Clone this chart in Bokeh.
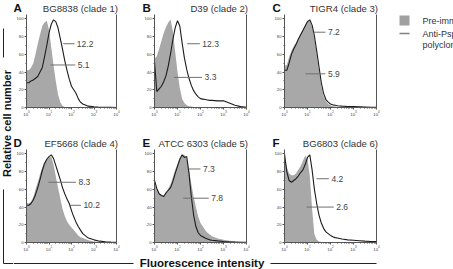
import math
from bokeh.plotting import figure
from bokeh.layouts import row, column
from bokeh.models import Range1d, LinearAxis, FixedTicker, Spacer
from bokeh.core.properties import value
from bokeh.embed import file_html
from bokeh.resources import INLINE

FONT = "Liberation Sans"
GRAY_FILL = "#a8a8a8"
LINE_BLACK = "#1c1c1c"
AXIS_COLOR = "#555555"
LEADER = "#707070"
TEXT_DARK = "#333333"

# Fluorescence bins (log10 of intensity) shared by every histogram
LOG_BINS = [0.0, 0.1, 0.2, 0.3, 0.4, 0.5, 0.6, 0.7, 0.8, 0.9,
            1.0, 1.1, 1.2, 1.3, 1.4, 1.5, 1.6, 1.7, 1.8, 1.9,
            2.0, 2.1, 2.2, 2.3, 2.4, 2.5, 2.75, 3.0, 3.25, 3.5, 3.75, 4.0]

STRAINS = ["BG8838 (clade 1)", "D39 (clade 2)", "TIGR4 (clade 3)",
           "EF5668 (clade 4)", "ATCC 6303 (clade 5)", "BG6803 (clade 6)"]
LETTERS = ["A", "B", "C", "D", "E", "F"]

# Relative cell number, pre-immune serum
PRE_A = [42, 42, 45, 50, 60, 72, 82, 92, 96, 98, 88, 68, 48, 30, 15, 6, 2, 0.5,
         0, 0, 0, 0, 0, 0, 0, 0, 0, 0, 0, 0, 0, 0]
PRE_B = [55, 58, 66, 75, 84, 91, 96, 99, 86, 63, 40, 22, 10, 5, 2.5, 1.5, 1, 0.5, 0.3, 0.2,
         0, 0, 0, 0, 0, 0, 0, 0, 0, 0, 0, 0]
PRE_C = [47, 48, 57, 64, 69, 73, 78, 83, 88, 93, 98, 98, 91, 78, 60, 42, 24, 13, 7, 4,
         2.5, 1.5, 1, 0.6, 0.4, 0.3, 0, 0, 0, 0, 0, 0]
PRE_D = [45, 44, 46, 51, 60, 68, 77, 85, 91, 94, 96, 97, 88, 75, 62, 50, 38, 30, 24, 20,
         17, 14, 11, 8, 6, 5, 2.5, 1.2, 0.6, 0.3, 0.1, 0]
PRE_E = [66, 61, 56, 54, 53, 56, 61, 66, 74, 82, 89, 95, 99, 99, 94, 82, 66, 52, 40, 29,
         22, 18, 14, 11, 9, 7, 4.5, 3, 2, 1.3, 0.8, 0.4]
PRE_F = [95, 85, 78, 76, 76, 78, 82, 86, 92, 98, 94, 75, 38, 9, 3, 1, 0.5,
         0, 0, 0, 0, 0, 0, 0, 0, 0, 0, 0, 0, 0, 0, 0]

# Relative cell number, anti-PspA polyclonal serum
ANTI_A = [28, 28, 30, 31, 33, 35, 40, 45, 57, 70, 84, 94, 99, 97, 90, 78, 66, 53, 42, 32,
          24, 20, 16, 10, 6, 4, 1.5, 0.8, 0.3, 0.2, 0.1, 0]
ANTI_B = [52, 18, 21, 24, 29, 36, 47, 61, 77, 90, 98, 92, 73, 56, 43, 33, 25, 19, 15, 12,
          10, 9.5, 9, 8.5, 8, 8, 7.5, 7.5, 5, 2.5, 1, 0.3]
ANTI_C = [42, 42, 50, 60, 66, 71, 77, 82, 87, 92, 97, 99, 93, 81, 64, 46, 28, 16, 9, 6,
          4, 3, 2.5, 2, 1.7, 1.5, 1.2, 1, 0.8, 0.6, 0.3, 0.2]
ANTI_D = [42, 42, 44, 48, 54, 62, 71, 81, 89, 94, 97, 99, 95, 87, 79, 71, 62, 55, 49, 44,
          36, 29, 23, 18, 14, 10, 5, 3, 1.5, 0.8, 0.5, 0.3]
ANTI_E = [70, 61, 55, 53, 52, 56, 59, 62, 69, 78, 86, 94, 99, 96, 97, 78, 52, 31, 18, 11,
          8, 6.5, 5, 4, 3, 2.5, 1.8, 1.2, 0.8, 0.5, 0.3, 0.2]
ANTI_F = [100, 80, 70, 68, 70, 72, 75, 79, 82, 88, 96, 99, 82, 60, 44, 31, 22, 16, 12, 10,
          8, 6.5, 5.5, 5, 4.5, 4, 3, 2.5, 2, 1.5, 1.2, 1]

# Mean fluorescence intensities printed next to the histograms
MFI_PRE = ["5.1", "3.3", "5.9", "8.3", "7.8", "2.6"]
MFI_ANTI = ["12.2", "12.3", "7.2", "10.2", "7.3", "4.2"]

LEGEND_LABELS = ["Pre-immune serum", "Anti-PspA", "polyclonal serum"]

Y_TICKS = [0, 20, 40, 60, 80, 100]
X_TICKS = [1, 10, 100, 1000, 10000]

Y_MAX = 105
FRAME_W = 92
FRAME_H = 93
PX_PER_DECADE = FRAME_W / 4.0

# leader-line placement per panel: (start decade, end decade, height)
PRE_LEADERS = [(1.07, 2.17, 48), (0.84, 2.07, 34), (0.91, 1.78, 38),
               (0.97, 2.20, 68), (1.25, 2.36, 50), (0.96, 2.14, 40)]
ANTI_LEADERS = [(1.63, 2.13, 72), (1.42, 1.97, 72), (1.28, 1.78, 85),
                (1.91, 2.42, 42), (1.49, 2.00, 83), (1.39, 1.93, 72)]


def style_axis(ax, ticks, minor, font_size):
    ax.ticker = FixedTicker(ticks=ticks, minor_ticks=minor)
    ax.axis_line_color = AXIS_COLOR
    ax.axis_line_width = 1
    ax.major_tick_line_color = AXIS_COLOR
    ax.minor_tick_line_color = AXIS_COLOR
    ax.major_tick_in = 0
    ax.major_tick_out = 2
    ax.minor_tick_in = 0
    ax.minor_tick_out = 1
    ax.major_label_text_font = FONT
    ax.major_label_text_font_size = font_size
    ax.major_label_text_color = "#444444"
    ax.major_label_standoff = 1


def panel(i, width, height, left_border, right_border, bottom_border):
    pre, anti = PRE_SETS[i], ANTI_SETS[i]
    p = figure(width=width, height=height, x_axis_type="log",
               x_range=Range1d(1, 1e4), y_range=Range1d(0, Y_MAX),
               output_backend="svg", toolbar_location=None,
               min_border_left=left_border, min_border_right=right_border,
               min_border_top=0, min_border_bottom=bottom_border)
    p.outline_line_color = None
    p.grid.visible = False

    xs = [10 ** e for e in LOG_BINS]
    p.varea(x=xs, y1=[0] * len(xs), y2=pre, fill_color=GRAY_FILL)
    p.line(x=xs, y=anti, line_color=LINE_BLACK, line_width=1.1)

    minor_x = [m * 10 ** d for d in range(4) for m in range(2, 10)]
    style_axis(p.xaxis[0], X_TICKS, minor_x, "4.4px")
    style_axis(p.yaxis[0], Y_TICKS, [10, 30, 50, 70, 90], "4.2px")

    right_axis = LinearAxis(ticker=FixedTicker(ticks=[]), axis_line_color=AXIS_COLOR,
                            major_tick_out=0, major_tick_in=0,
                            minor_tick_out=0, minor_tick_in=0,
                            major_label_text_font_size="0px")
    p.add_layout(right_axis, "right")

    # leader lines with their MFI values
    leaders = [PRE_LEADERS[i], ANTI_LEADERS[i]]
    labels = [MFI_PRE[i], MFI_ANTI[i]]
    p.segment(x0=[10 ** a for a, _, _ in leaders], x1=[10 ** b for _, b, _ in leaders],
              y0=[h for _, _, h in leaders], y1=[h for _, _, h in leaders],
              line_color=LEADER, line_width=1)
    gap = 2.5 / PX_PER_DECADE
    p.text(x=[10 ** (b + gap) for _, b, _ in leaders], y=[h for _, _, h in leaders],
           text=labels, text_font=value(FONT), text_font_size="8.5px",
           text_color="#444444", text_baseline="middle", text_align="left")
    return p


def blank(width, height, frame_h=None, bottom_border=0):
    """Decoration canvas whose data units are pixels measured from its top-left."""
    fh = height if frame_h is None else frame_h
    p = figure(width=width, height=height, x_range=Range1d(0, width),
               y_range=Range1d(fh, 0), output_backend="svg",
               toolbar_location=None, min_border=0, min_border_bottom=bottom_border,
               x_axis_location=None, y_axis_location=None)
    p.outline_line_color = None
    p.grid.visible = False
    return p


def heading_strip(first):
    """Panel letters and strain names above one row of histograms."""
    s = blank(440, 14)
    letter_x = [0, 129, 259]
    title_x = [104.5, 234.5, 364.5]
    s.text(x=letter_x, y=[7, 7, 7], text=LETTERS[first:first + 3],
           text_font=value(FONT), text_font_style="bold", text_font_size="11.5px",
           text_color="#111111", text_baseline="middle", text_align="left")
    s.text(x=title_x, y=[7.5, 7.5, 7.5], text=STRAINS[first:first + 3],
           text_font=value(FONT), text_font_size="9.6px", text_color=TEXT_DARK,
           text_baseline="middle", text_align="right")
    return s


PRE_SETS = [PRE_A, PRE_B, PRE_C, PRE_D, PRE_E, PRE_F]
ANTI_SETS = [ANTI_A, ANTI_B, ANTI_C, ANTI_D, ANTI_E, ANTI_F]

# (width, left border, right border) for the three columns
COLS = [(128, 11, 25), (130, 13, 25), (123, 13, 18)]

top_panels = [panel(i, COLS[i][0], 121, COLS[i][1], COLS[i][2], 28) for i in range(3)]
mid_panels = [panel(i + 3, COLS[i][0], 104, COLS[i][1], COLS[i][2], 11) for i in range(3)]

# legend (its frame lines up with the neighbouring histogram frames)
leg = blank(59, 121, frame_h=FRAME_H, bottom_border=28)
leg.quad(left=[5], right=[15], top=[1], bottom=[11], fill_color="#a0a0a0", line_color=None)
leg.segment(x0=[5], x1=[15], y0=[19], y1=[19], line_color="#808080", line_width=1.5)
leg.text(x=[28, 28, 28], y=[6, 19, 30], text=LEGEND_LABELS,
         text_font=value(FONT), text_font_size="9px", text_color=TEXT_DARK,
         text_baseline="middle", text_align="left")

# shared y-axis caption with its bracket line
left = blank(13, 269)
left.segment(x0=[3, 3, 3], y0=[28, 189, 263], x1=[3, 3, 13], y1=[57, 263, 263],
             line_color="#222222", line_width=1)
left.text(x=[6], y=[123], text=["Relative cell number"], angle=math.pi / 2,
          text_font=value(FONT), text_font_style="bold", text_font_size="11px",
          text_color="#111111", text_align="center", text_baseline="middle")

# shared x-axis caption
bottom = blank(440, 16)
bottom.segment(x0=[0, 257], x1=[120, 363], y0=[10, 10], y1=[10, 10],
               line_color="#222222", line_width=1)
bottom.text(x=[188.5], y=[9], text=["Fluorescence intensity"],
            text_font=value(FONT), text_font_style="bold", text_font_size="11.5px",
            text_color="#111111", text_align="center", text_baseline="middle")

layout = row(left,
             column(heading_strip(0),
                    row(*top_panels, leg),
                    heading_strip(3),
                    row(*mid_panels, Spacer(width=59, height=104)),
                    bottom))

open("out.html", "w").write(file_html(layout, INLINE))
